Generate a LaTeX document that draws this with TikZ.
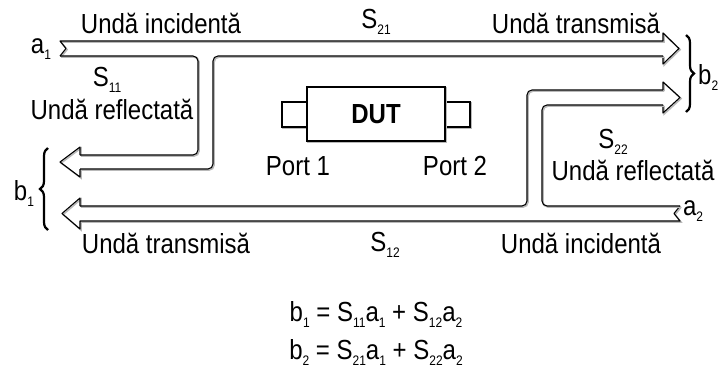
\documentclass[tikz,border=0pt]{standalone}
\usepackage{fontspec}
\setmainfont{Liberation Sans}
\usetikzlibrary{decorations.pathreplacing}
\newcommand\vs[1]{\scalebox{1}[1.15]{#1}}
\newcommand\sbs[1]{\raisebox{-0.25em}{\fontsize{12}{12}\selectfont #1}}
\tikzset{
  lbl/.style={font=\fontsize{24}{27}\selectfont, inner sep=0pt, anchor=base},
  shd/.style={preaction={draw=gray!55, line width=1.5pt, transform canvas={shift={(1.1pt,-1.1pt)}}}},
  wl/.style={draw=black, line width=1.1pt, line join=round, shd},
  wr/.style={wl, rounded corners=5pt},
  brc/.style={draw, line width=2.2pt, decorate, decoration={brace, amplitude=8pt}},
  boxst/.style={draw, line width=1.1pt, shd, fill=white, inner sep=0pt}
}
\begin{document}
\begin{tikzpicture}[x=1pt, y=-1pt]
\useasboundingbox (0,0) rectangle (719,376);

% ---- top wave (a1 -> b2, with S11 branch)
\draw[wl] (60,56) -- (66,48.5) -- (60,41) -- (663,41) -- (663,33) -- (679,48.5) -- (663,64) -- (663,56);
\draw[wr] (663,56) -- (213,56) -- (213,169) -- (80,169);
\draw[wl] (80,169) -- (80,177) -- (60,162) -- (80,147) -- (80,155);
\draw[wr] (80,155) -- (198,155) -- (198,56) -- (60,56);

% ---- bottom wave (a2 -> b1, with S22 branch)
\draw[wl] (680,206) -- (674,213.5) -- (680,221) -- (80,221) -- (80,229) -- (62,213.5) -- (80,198) -- (80,206);
\draw[wr] (80,206) -- (527,206) -- (527,90) -- (663,90);
\draw[wl] (663,90) -- (663,82) -- (680,97.5) -- (663,113) -- (663,105);
\draw[wr] (663,105) -- (542,105) -- (542,206) -- (680,206);

% ---- DUT
\node[boxst, minimum width=25pt, minimum height=25pt] (pa) at (294.5,114.5) {};
\node[boxst, minimum width=25pt, minimum height=25pt] (pb) at (457.5,114.5) {};
\node[boxst, minimum width=138pt, minimum height=54pt, font=\fontsize{24}{27}\selectfont\bfseries] (dut) at (376,114) {\vs{DUT}};

% ---- braces
\coordinate (b2t) at (686,35);
\coordinate (b2b) at (686,112);
\draw[brc] (b2t) -- (b2b);
\coordinate (b1b) at (48,230);
\coordinate (b1t) at (48,148);
\draw[brc] (b1b) -- (b1t);

% ---- labels
\node[lbl] (t1) at (161,33) {\vs{Undă incidentă}};
\node[lbl] (s21) at (376,28) {\vs{S\sbs{21}}};
\node[lbl] (t2) at (576,33) {\vs{Undă transmisă}};
\node[lbl] (s11) at (107,86) {\vs{S\sbs{11}}};
\node[lbl] (r1) at (112,119) {\vs{Undă reflectată}};
\node[lbl] (a1) at (41,53) {\vs{a\sbs{1}}};
\node[lbl] (p1) at (298,175) {\vs{Port 1}};
\node[lbl] (p2) at (455,175) {\vs{Port 2}};
\node[lbl] (s22) at (613,148) {\vs{S\sbs{22}}};
\node[lbl] (r2) at (633,180) {\vs{Undă reflectată}};
\node[lbl] (a2) at (693,215) {\vs{a\sbs{2}}};
\node[lbl] (t3) at (166,253) {\vs{Undă transmisă}};
\node[lbl] (s12) at (385,251) {\vs{S\sbs{12}}};
\node[lbl] (t4) at (581,253) {\vs{Undă incidentă}};
\node[lbl] (b1) at (24,200) {\vs{b\sbs{1}}};
\node[lbl, anchor=base west] (b2) at (698,84) {\vs{b\sbs{2}}};
\node[lbl] (eq1) at (376,321) {\vs{b\sbs{1} = S\sbs{11}a\sbs{1} + S\sbs{12}a\sbs{2}}};
\node[lbl] (eq2) at (376,359) {\vs{b\sbs{2} = S\sbs{21}a\sbs{1} + S\sbs{22}a\sbs{2}}};
\end{tikzpicture}
\end{document}
